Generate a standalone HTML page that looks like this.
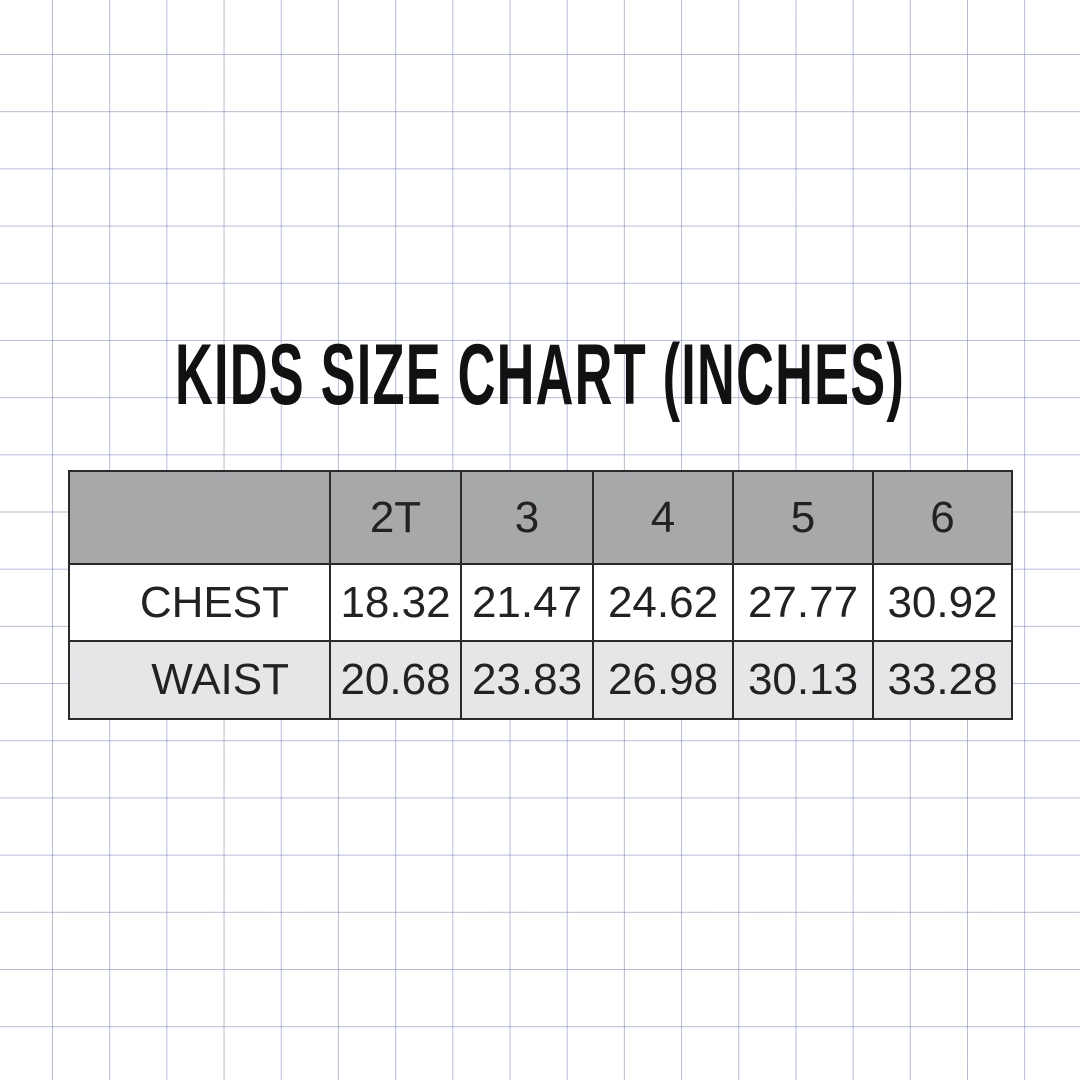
<!DOCTYPE html>
<html><head><meta charset="utf-8"><style>
html,body{margin:0;padding:0;}
body{width:1080px;height:1080px;position:relative;overflow:hidden;background:#fff;
background-image:linear-gradient(to right,rgba(120,130,200,0.55) 1px,transparent 1px),linear-gradient(to bottom,rgba(120,130,200,0.55) 1px,transparent 1px);
background-size:57.2px 57.2px;background-position:52px 54px;font-family:"Liberation Sans",sans-serif;}
#title{position:absolute;left:175px;top:330px;width:730px;height:90px;}
#title span{display:inline-block;font-weight:bold;font-size:86px;line-height:90px;color:#111;transform-origin:0 0;white-space:nowrap;letter-spacing:2px;}
#tbl{position:absolute;left:68px;top:470px;}
.c{position:absolute;box-sizing:border-box;border:2px solid #2a2a2a;font-size:44px;color:#222;display:flex;align-items:center;justify-content:center;}
</style></head><body>
<div id="title"><span id="tt">KIDS SIZE CHART (INCHES)</span></div>
<div id="tbl"></div>
<script>
const sizes=["2T","3","4","5","6"];
const rows=["CHEST","WAIST"];
const chest=["18.32","21.47","24.62","27.77","30.92"];
const waist=["20.68","23.83","26.98","30.13","33.28"];
const colX=[0,261,392,524,664,804,943];
const rowY=[0,93,170,248];
const fills=["#a7a8aa","#ffffff","#e6e6e8"];
const tbl=document.getElementById('tbl');
function cell(x0,x1,y0,y1,txt,fill,name,align){
 const d=document.createElement('div');d.className='c';
 
 
 d.style.left=x0+'px';d.style.top=y0+'px';d.style.width=(x1-x0+2)+'px';d.style.height=(y1-y0+2)+'px';
 d.style.background=fill;if(align){d.style.justifyContent='flex-end';d.style.paddingRight='40px';}
 d.textContent=txt;tbl.appendChild(d);}
cell(colX[0],colX[1],rowY[0],rowY[1],"",fills[0],'header-corner');
sizes.forEach((s,i)=>cell(colX[i+1],colX[i+2],rowY[0],rowY[1],s,fills[0],'size-header-'+s));
[chest,waist].forEach((vals,r)=>{
 cell(colX[0],colX[1],rowY[r+1],rowY[r+2],rows[r],fills[r+1],rows[r].toLowerCase()+'-label',true);
 vals.forEach((v,i)=>cell(colX[i+1],colX[i+2],rowY[r+1],rowY[r+2],v,fills[r+1],rows[r].toLowerCase()+'-'+sizes[i]));
});
const tt=document.getElementById('tt');const w=tt.getBoundingClientRect().width;
tt.style.transform='scaleX('+(730/w)+')';
</script>
</body></html>
